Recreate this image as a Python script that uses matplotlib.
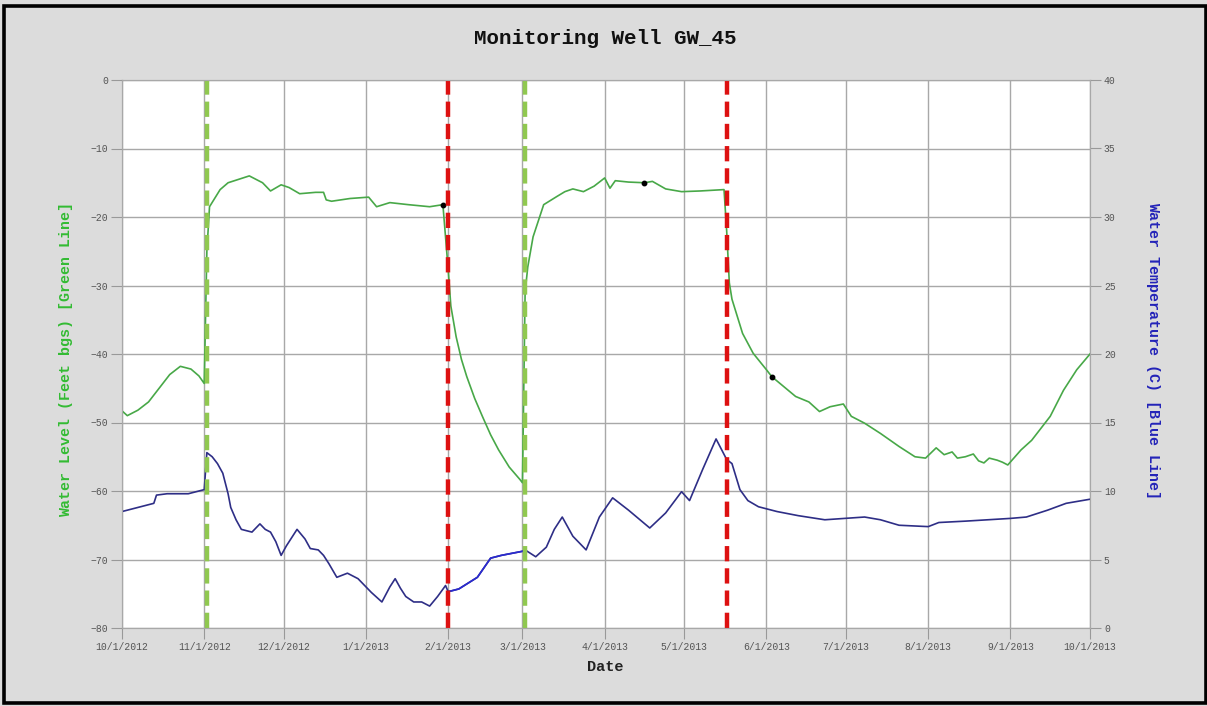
import matplotlib
matplotlib.use('Agg')
import matplotlib.pyplot as plt
import matplotlib.dates as mdates
import pandas as pd
from matplotlib.patches import Rectangle

# water level readings (feet below ground surface)
level_dates = [
    '2012-10-01', '2012-10-03', '2012-10-07', '2012-10-11', '2012-10-15', '2012-10-19',
    '2012-10-23', '2012-10-27', '2012-10-30', '2012-11-01',
    '2012-11-02', '2012-11-03', '2012-11-07', '2012-11-10', '2012-11-14', '2012-11-18',
    '2012-11-23', '2012-11-26', '2012-11-30', '2012-12-03', '2012-12-07', '2012-12-13',
    '2012-12-16', '2012-12-17', '2012-12-19', '2012-12-26', '2013-01-02', '2013-01-05',
    '2013-01-10', '2013-01-17', '2013-01-25', '2013-01-30',
    '2013-02-01', '2013-02-02', '2013-02-04', '2013-02-06', '2013-02-08', '2013-02-11',
    '2013-02-14', '2013-02-17', '2013-02-20', '2013-02-24', '2013-02-28', '2013-03-01',
    '2013-03-02', '2013-03-03', '2013-03-05', '2013-03-09', '2013-03-14', '2013-03-17',
    '2013-03-20', '2013-03-24', '2013-03-28', '2013-04-01', '2013-04-03', '2013-04-05',
    '2013-04-10', '2013-04-16', '2013-04-19', '2013-04-24', '2013-04-30', '2013-05-07',
    '2013-05-16',
    '2013-05-17', '2013-05-18', '2013-05-19', '2013-05-23', '2013-05-27', '2013-06-01',
    '2013-06-03', '2013-06-12', '2013-06-17', '2013-06-21', '2013-06-25', '2013-06-30',
    '2013-07-03', '2013-07-08', '2013-07-14', '2013-07-21', '2013-07-27', '2013-07-31',
    '2013-08-04', '2013-08-07', '2013-08-10', '2013-08-12', '2013-08-15', '2013-08-18',
    '2013-08-20', '2013-08-22', '2013-08-24', '2013-08-27', '2013-08-29', '2013-08-31',
    '2013-09-05', '2013-09-09', '2013-09-16', '2013-09-21', '2013-09-26', '2013-10-01',
]
level_ft = [
    -48.3, -49.0, -48.2, -47.0, -45.0, -43.0, -41.8, -42.2, -43.2, -44.3,
    -25.0, -18.5, -16.0, -15.0, -14.5, -14.0, -15.0, -16.2, -15.3, -15.7, -16.6, -16.4,
    -16.4, -17.5, -17.7, -17.3, -17.1, -18.5, -17.9, -18.2, -18.5, -18.2,
    -27.7, -33.0, -37.5, -40.8, -43.3, -46.5, -49.2, -51.8, -54.0, -56.5, -58.3, -58.8,
    -31.0, -27.3, -22.9, -18.2, -17.0, -16.3, -15.9, -16.3, -15.5, -14.3, -15.8, -14.7,
    -14.9, -15.0, -14.8, -15.9, -16.3, -16.2, -16.0,
    -22.0, -29.6, -32.0, -37.0, -39.9, -42.3, -43.3, -46.2, -47.0, -48.4, -47.7, -47.3,
    -49.1, -50.1, -51.6, -53.5, -55.0, -55.2, -53.7, -54.7, -54.3, -55.2, -55.0, -54.6,
    -55.6, -55.9, -55.2, -55.5, -55.8, -56.2, -54.0, -52.6, -49.1, -45.3, -42.3, -40.0,
]
marked_dates = ['2013-01-30', '2013-04-16', '2013-06-03']

# water temperature (C)
temp_dates = [
    '2012-10-01', '2012-10-13', '2012-10-14', '2012-10-18', '2012-10-26', '2012-11-01',
    '2012-11-02', '2012-11-04', '2012-11-06', '2012-11-08', '2012-11-10', '2012-11-11',
    '2012-11-13', '2012-11-15', '2012-11-19', '2012-11-22', '2012-11-24', '2012-11-26',
    '2012-11-28', '2012-11-30', '2012-12-02', '2012-12-04', '2012-12-06', '2012-12-09',
    '2012-12-11', '2012-12-14', '2012-12-16', '2012-12-18', '2012-12-21', '2012-12-25',
    '2012-12-29', '2013-01-01', '2013-01-03', '2013-01-07', '2013-01-10', '2013-01-12',
    '2013-01-14', '2013-01-16', '2013-01-19', '2013-01-22', '2013-01-25', '2013-01-28',
    '2013-01-31', '2013-02-01', '2013-02-05', '2013-02-12', '2013-02-17', '2013-02-21',
    '2013-03-01', '2013-03-02', '2013-03-06', '2013-03-10', '2013-03-13', '2013-03-16',
    '2013-03-20', '2013-03-25', '2013-03-30', '2013-04-04', '2013-04-10', '2013-04-18',
    '2013-04-24', '2013-04-30', '2013-05-03', '2013-05-08', '2013-05-13', '2013-05-17',
    '2013-05-19', '2013-05-22', '2013-05-25', '2013-05-29', '2013-06-05', '2013-06-13',
    '2013-06-23', '2013-07-08', '2013-07-14', '2013-07-21', '2013-08-01', '2013-08-05',
    '2013-08-15', '2013-09-01', '2013-09-07', '2013-09-15', '2013-09-22', '2013-10-01',
]
temp_c = [
    8.5, 9.1, 9.7, 9.8, 9.8, 10.1,
    12.8, 12.5, 12.0, 11.3, 9.8, 8.8,
    7.9, 7.2, 7.0, 7.6, 7.2, 7.0,
    6.3, 5.3, 6.0, 6.6, 7.2, 6.5,
    5.8, 5.7, 5.3, 4.7, 3.7, 4.0,
    3.6, 3.0, 2.6, 1.9, 3.0, 3.6,
    2.9, 2.3, 1.9, 1.9, 1.6, 2.3,
    3.1, 2.65, 2.85, 3.7, 5.1, 5.3,
    5.6, 5.7, 5.2, 5.9, 7.2, 8.1,
    6.7, 5.7, 8.1, 9.5, 8.6, 7.3,
    8.4, 9.95, 9.3, 11.6, 13.8, 12.3,
    12.0, 10.1, 9.3, 8.85, 8.5, 8.2,
    7.9, 8.1, 7.9, 7.5, 7.4, 7.7,
    7.8, 8.0, 8.1, 8.6, 9.1, 9.4,
]

# pumping off / on events
pump_off_dates = ['2012-11-02', '2013-03-02']
pump_on_dates = ['2013-02-01', '2013-05-17']

level = pd.Series(level_ft, index=pd.to_datetime(level_dates))
temp = pd.Series(temp_c, index=pd.to_datetime(temp_dates))
marked = level.loc[pd.to_datetime(marked_dates)]

plt.rcParams['font.family'] = 'Liberation Mono'
plt.rcParams['lines.scale_dashes'] = False

fig = plt.figure(figsize=(12.07, 7.06), dpi=100, facecolor='#dcdcdc')
ax = fig.add_axes([122 / 1207, 1 - 628 / 706, 968 / 1207, 548 / 706])
ax.set_facecolor('white')
ax2 = ax.twinx()

ax.plot(level.index, level.values, color='#48a848', lw=1.2, zorder=3)
ax.plot(marked.index, marked.values, 'o', color='black', ms=3.2, zorder=4)

ax2.plot(temp.index, temp.values, color='#2e2e86', lw=1.2)
feb = temp.loc['2013-02-01':'2013-03-01']
ax2.plot(feb.index, feb.values, color='#2a2ad0', lw=1.2)

for d in pump_off_dates:
    ax2.axvline(pd.Timestamp(d), color='#90c850', lw=3.2, dashes=(11, 5))
for d in pump_on_dates:
    ax2.axvline(pd.Timestamp(d), color='#dd1111', lw=3.2, dashes=(11, 5))

ax.set_xlim(pd.Timestamp('2012-10-01'), pd.Timestamp('2013-10-01'))
ax.set_ylim(-80, 0)
ax2.set_ylim(0, 40)
ax.set_yticks(range(-80, 1, 10))
ax2.set_yticks(range(0, 41, 5))
ax.xaxis.set_major_locator(mdates.MonthLocator(bymonthday=1))
ax.xaxis.set_major_formatter(mdates.DateFormatter('%-m/%-d/%Y'))

ax.grid(True, color='#a8a8a8', lw=1)
for a in (ax, ax2):
    for s in a.spines.values():
        s.set_color('#a8a8a8')
    a.tick_params(length=8, width=0.8, color='#999999', labelsize=7,
                  labelcolor='#555555', pad=2)

ax.set_ylabel('Water Level (Feet bgs) [Green Line]', color='#33bb33',
              fontweight='bold', fontsize=10.8)
ax.yaxis.set_label_coords(-0.051, 0.49)
ax2.set_ylabel('Water Temperature (C) [Blue Line]', color='#2323b8',
               fontweight='bold', fontsize=10.8, rotation=270, va='center')
ax2.yaxis.set_label_coords(1.065, 0.507)

fig.text(605 / 1207, 1 - 38 / 706, 'Monitoring Well GW_45', fontsize=15,
         fontweight='bold', ha='center', va='center', color='#111111')
fig.text(605 / 1207, 1 - 667 / 706, 'Date', fontsize=11, fontweight='bold',
         ha='center', va='center', color='#222222')

fig.add_artist(Rectangle((3.5 / 1207, 3 / 706), 1202 / 1207, 697 / 706,
                         transform=fig.transFigure, fill=False,
                         edgecolor='black', lw=2.6))

fig.savefig('out.png', dpi=100, facecolor=fig.get_facecolor())
